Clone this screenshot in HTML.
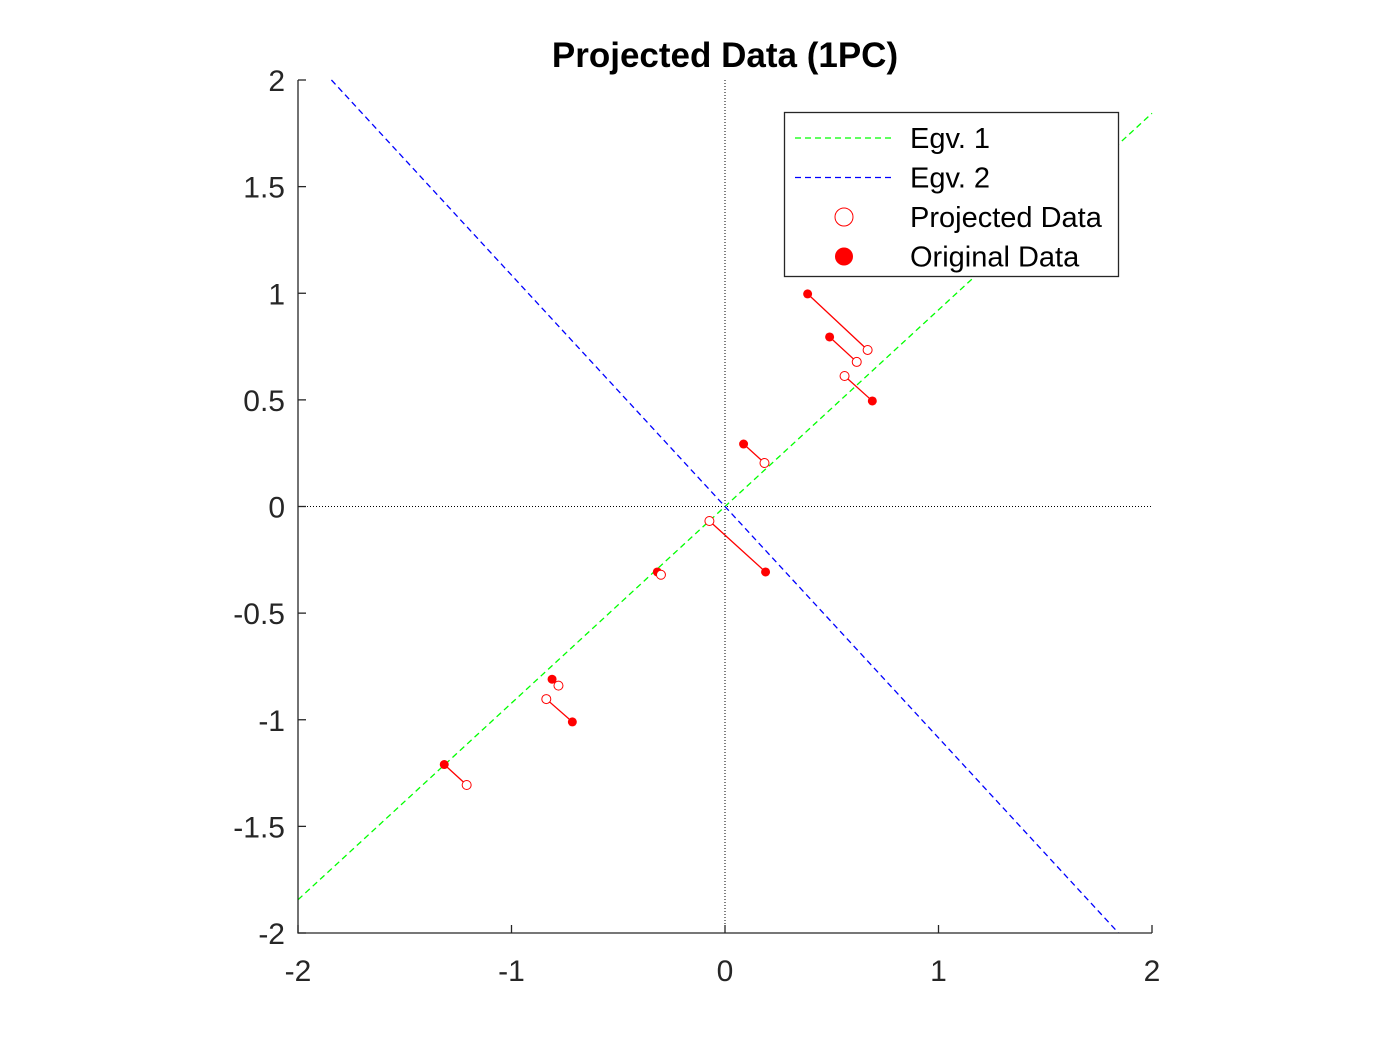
<!DOCTYPE html>
<html><head><meta charset="utf-8"><style>
body{margin:0;background:#fff;width:1400px;height:1050px;overflow:hidden}
svg{font-family:"Liberation Sans",Arial,sans-serif}
</style></head><body>
<svg id="chart" width="1400" height="1050"></svg>
<script>
const ticks=[-2,-1.5,-1,-0.5,0,0.5,1,1.5,2];
const xTickVals=[-2,-1,0,1,2];
const origX=[0.387,0.49,0.69,0.087,0.19,-0.317,-0.81,-0.715,-1.315];
const origY=[0.997,0.795,0.495,0.293,-0.307,-0.307,-0.81,-1.01,-1.21];
const projX=[0.668,0.617,0.56,0.185,-0.073,-0.30,-0.78,-0.837,-1.21];
const projY=[0.734,0.678,0.612,0.204,-0.068,-0.32,-0.84,-0.903,-1.306];
const egv1Slope=[0.922];
const egv2Slope=[-1.085];

const X0=298,X1=1152,Y0=933,Y1=80;
const sx=v=>X0+(v+2)/4*(X1-X0);
const sy=v=>Y0-(v+2)/4*(Y0-Y1);
const svg=document.getElementById('chart');
const NS='http://www.w3.org/2000/svg';
function mk(t,a,p){const e=document.createElementNS(NS,t);for(const k in a)e.setAttribute(k,a[k]);(p||svg).appendChild(e);return e;}

let e=mk('line',{x1:sx(0),y1:Y1,x2:sx(0),y2:Y0,stroke:'#000','stroke-width':1,'stroke-dasharray':'1,2'});


e=mk('line',{x1:X0,y1:sy(0),x2:X1,y2:sy(0),stroke:'#000','stroke-width':1,'stroke-dasharray':'1,2'});



function egvLine(m,color,name){
  let xa=-2,xb=2;
  if(Math.abs(m)>1){xa=-2/Math.abs(m);xb=2/Math.abs(m);}
  const l=mk('line',{x1:sx(xa),y1:sy(m*xa),x2:sx(xb),y2:sy(m*xb),stroke:color,'stroke-width':1.3,'stroke-dasharray':'6,4'});
  
  
}
egvLine(egv1Slope[0],'#00ff00','egv1-line');
egvLine(egv2Slope[0],'#0000ff','egv2-line');

for(let i=0;i<origX.length;i++){
  const l=mk('line',{x1:sx(origX[i]),y1:sy(origY[i]),x2:sx(projX[i]),y2:sy(projY[i]),stroke:'#ff0000','stroke-width':1.3});
  
  
  const c=mk('circle',{cx:sx(origX[i]),cy:sy(origY[i]),r:4.5,fill:'#ff0000'});
  
  
  const p=mk('circle',{cx:sx(projX[i]),cy:sy(projY[i]),r:4.5,fill:'#fff',stroke:'#ff0000','stroke-width':1});
  
  
}

e=mk('path',{d:`M${X0},${Y1} L${X0},${Y0} L${X1},${Y0}`,fill:'none',stroke:'#262626','stroke-width':1.3});


ticks.forEach(v=>{
  const t=mk('line',{x1:X0,y1:sy(v),x2:X0+8,y2:sy(v),stroke:'#262626','stroke-width':1.3});
  
  
  const tx=mk('text',{x:X0-13,y:sy(v)+11,'text-anchor':'end','font-size':30,fill:'#262626'});
  tx.textContent=String(v);
  
  
});
xTickVals.forEach(v=>{
  const t=mk('line',{x1:sx(v),y1:Y0,x2:sx(v),y2:Y0-8,stroke:'#262626','stroke-width':1.3});
  
  
  const tx=mk('text',{x:sx(v),y:Y0+48,'text-anchor':'middle','font-size':30,fill:'#262626'});
  tx.textContent=String(v);
  
  
});
e=mk('text',{x:725,y:67,'text-anchor':'middle','font-size':35,'font-weight':'bold',fill:'#000'});
e.textContent='Projected Data (1PC)';



const g=mk('g',{});


mk('rect',{x:784.5,y:112.5,width:334,height:164,fill:'#fff',stroke:'#262626','stroke-width':1.3},g);
const labels=['Egv. 1','Egv. 2','Projected Data','Original Data'];
labels.forEach((lab,i)=>{
  const y=138+i*39.5;
  let m;
  if(i<2){m=mk('line',{x1:795,y1:y,x2:895,y2:y,stroke:i?'#0000ff':'#00ff00','stroke-width':1.3,'stroke-dasharray':'6,4'},g);}
  else if(i==2){m=mk('circle',{cx:844,cy:y,r:9,fill:'#fff',stroke:'#ff0000','stroke-width':1},g);}
  else{m=mk('circle',{cx:844,cy:y,r:9,fill:'#ff0000'},g);}
  
  
  const t=mk('text',{x:910,y:y+10,'font-size':29,fill:'#000'},g);
  t.textContent=lab;
  
  
});
</script>
</body></html>
